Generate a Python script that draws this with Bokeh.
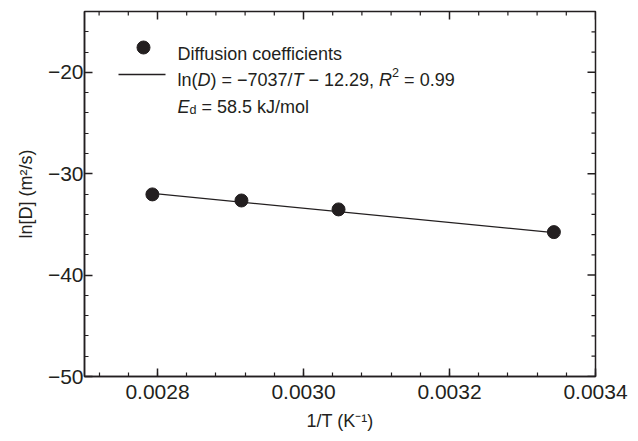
import math
import numpy as np
from bokeh.plotting import figure
from bokeh.models import (Range1d, SingleIntervalTicker, PrintfTickFormatter,
                          CustomJSTickFormatter, Label)
from bokeh.embed import file_html
from bokeh.resources import INLINE

# ---- data ----
inv_T = [0.002793, 0.002915, 0.003048, 0.003343]      # 1/T (K^-1)
ln_D = [-32.04, -32.64, -33.52, -35.76]                # ln[D] (m2/s)
fit_slope = -7037.0
fit_intercept = -12.29
x_tick_interval = 0.0002
y_tick_interval = 10
x_label = "1/T (K\u207b\u00b9)"
y_label = "ln[D] (m\u00b2/s)"

# ---- layout ----
W, H = 638, 441
FL, FR, FT, FB = 84, 595, 11, 376          # frame edges in px
X0, X1 = 0.0027, 0.0034 + 1e-9
Y0, Y1 = -50.0, -14.0
INK = "#231f20"
FONT = "Liberation Sans"
FS = 18

def dx(px):
    return X0 + (px - FL) / (FR - FL) * (X1 - X0)

def dy(py):
    return Y1 - (py - FT) / (FB - FT) * (Y1 - Y0)

XPX = (X1 - X0) / (FR - FL)     # data units per px
YPX = (Y1 - Y0) / (FB - FT)

p = figure(width=W, height=H, x_range=Range1d(X0, X1), y_range=Range1d(Y0, Y1),
           output_backend="svg", toolbar_location=None,
           min_border_left=FL, min_border_right=W - FR, min_border_top=FT,
           min_border_bottom=H - FB, background_fill_color="white",
           border_fill_color="white")
p.xgrid.visible = False
p.ygrid.visible = False
p.outline_line_color = INK
p.outline_line_width = 1.5

for ax in (p.xaxis[0], p.yaxis[0]):
    ax.axis_line_color = INK
    ax.axis_line_width = 1.5
    ax.major_tick_line_color = INK
    ax.major_tick_line_width = 1.5
    ax.minor_tick_line_color = INK
    ax.minor_tick_line_width = 1.2
    ax.major_tick_in = 8
    ax.major_tick_out = 0
    ax.minor_tick_in = 4
    ax.minor_tick_out = 0
    ax.major_label_text_font = FONT
    ax.major_label_text_font_size = "21px"
    ax.major_label_text_color = INK
    ax.axis_label_text_font = FONT
    ax.axis_label_text_font_size = "18px"
    ax.axis_label_text_font_style = "normal"
    ax.axis_label_text_color = INK

p.xaxis.ticker = SingleIntervalTicker(interval=x_tick_interval, num_minor_ticks=5)
p.yaxis.ticker = SingleIntervalTicker(interval=y_tick_interval, num_minor_ticks=5)
p.xaxis.formatter = PrintfTickFormatter(format="%.4f")
p.yaxis.formatter = CustomJSTickFormatter(
    code="return (tick < 0 ? '\u2212' : '') + Math.abs(tick).toFixed(0);")
p.xaxis.major_label_standoff = 8
p.yaxis.major_label_standoff = 1
p.xaxis.axis_label = x_label
p.yaxis.axis_label = y_label
p.xaxis.axis_label_standoff = 9
p.yaxis.axis_label_standoff = 9

# ---- mirrored ticks on top and right edges ----
x_major = np.round(np.arange(0.0028, X1, x_tick_interval), 6)
x_minor = np.round(np.arange(0.00272, X1, x_tick_interval / 5), 6)
x_minor = np.array([v for v in x_minor if not np.any(np.isclose(v, x_major))])
y_major = np.arange(-50, -14 + 1e-9, y_tick_interval)
y_minor = np.array([v for v in np.arange(-48, -14, 2) if v % 10 != 0])

p.segment(x0=x_major, y0=[Y1] * len(x_major), x1=x_major, y1=[Y1 - 8 * YPX] * len(x_major),
          line_color=INK, line_width=1.5)
p.segment(x0=x_minor, y0=[Y1] * len(x_minor), x1=x_minor, y1=[Y1 - 4 * YPX] * len(x_minor),
          line_color=INK, line_width=1.2)
p.segment(x0=[X1] * len(y_major), y0=y_major, x1=[X1 - 8 * XPX] * len(y_major), y1=y_major,
          line_color=INK, line_width=1.5)
p.segment(x0=[X1] * len(y_minor), y0=y_minor, x1=[X1 - 4 * XPX] * len(y_minor), y1=y_minor,
          line_color=INK, line_width=1.2)

# ---- data ----
xf = [min(inv_T), max(inv_T)]
yf = [fit_slope * x + fit_intercept for x in xf]
p.line(xf, yf, line_color=INK, line_width=1.3)
p.scatter(inv_T, ln_D, size=13, fill_color=INK, line_color=INK)

# ---- rich text helper (Arial/Liberation metrics) ----
ADV = {' ': 278, '(': 333, ')': 333, '[': 278, ']': 278, '=': 584, '\u2212': 584,
       '.': 278, ',': 278, '/': 278, 'l': 222, 'n': 556, 'D': 722, 'T': 611,
       'R': 722, 'E': 667, 'd': 556, 'k': 500, 'J': 500, 'm': 833, 'o': 556,
       's': 500, 'K': 667, 'i': 222, 'f': 278, 'u': 556, 'c': 500, 'e': 556, 't': 278}
for ch in "0123456789":
    ADV[ch] = 556

def tw(s, size):
    return sum(ADV.get(c, 556) for c in s) / 1000.0 * size

def rich(segs, x_px, base_py):
    off = 0.0
    for text, style, kind in segs:
        fs = FS * 0.7 if kind != "n" else FS
        shift = {"n": 0.0, "sup": FS * 0.40, "sub": -FS * 0.22}[kind]
        lead = len(text) - len(text.lstrip(" "))
        off += tw(" " * lead, fs)
        body = text.strip(" ")
        lab = Label(x=dx(x_px), y=dy(base_py), x_offset=off, y_offset=shift, text=body)
        lab.text_font = FONT
        lab.text_font_size = f"{fs:.1f}px"
        lab.text_font_style = style
        lab.text_color = INK
        lab.text_align = "left"
        lab.text_baseline = "alphabetic"
        p.add_layout(lab)
        off += tw(text[lead:], fs)

# ---- legend ----
p.scatter([dx(143)], [dy(47)], size=13, fill_color=INK, line_color=INK)
p.line([dx(118), dx(165)], [dy(74), dy(74)], line_color=INK, line_width=1.3)
rich([("Diffusion coefficients", "normal", "n")], 177, 53)
rich([("ln(", "normal", "n"), ("D", "italic", "n"), (") = \u22127037/", "normal", "n"),
      ("T", "italic", "n"), (" \u2212 12.29, ", "normal", "n"), ("R", "italic", "n"),
      ("2", "normal", "sup"), (" = 0.99", "normal", "n")], 177, 79)
rich([("E", "italic", "n"), ("d", "normal", "sub"), (" = 58.5 kJ/mol", "normal", "n")], 177, 106)

open("out.html", "w").write(file_html(p, INLINE))
